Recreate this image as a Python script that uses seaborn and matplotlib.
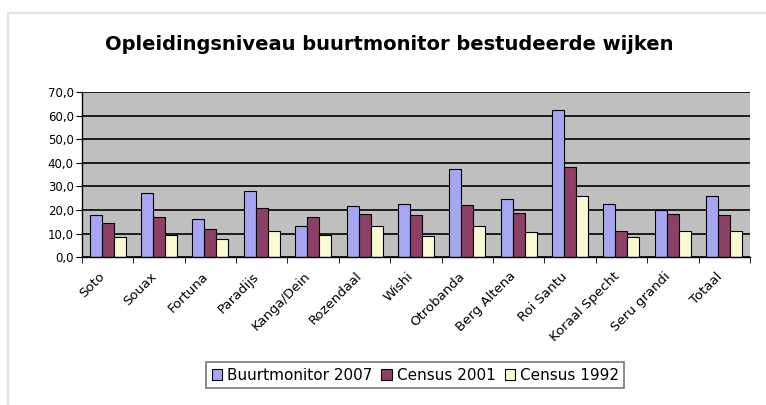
import numpy as np
import pandas as pd
import seaborn as sns
from matplotlib import pyplot as plt
from matplotlib.patches import Rectangle
from matplotlib.ticker import FuncFormatter
from matplotlib.transforms import ScaledTranslation

wijken = ['Soto', 'Souax', 'Fortuna', 'Paradijs', 'Kanga/Dein', 'Rozendaal', 'Wishi',
          'Otrobanda', 'Berg Altena', 'Roi Santu', 'Koraal Specht', 'Seru grandi', 'Totaal']
buurtmonitor_2007 = [17.8, 27.0, 16.0, 28.1, 13.2, 21.8, 22.5, 37.5, 24.7, 62.3, 22.5, 19.9, 25.9]
census_2001 = [14.3, 17.0, 11.8, 20.9, 17.0, 18.1, 17.8, 22.3, 18.8, 38.3, 11.0, 18.1, 17.8]
census_1992 = [8.6, 9.2, 7.6, 11.0, 9.6, 13.4, 8.9, 13.4, 10.7, 26.0, 8.6, 11.0, 11.0]
series = ['Buurtmonitor 2007', 'Census 2001', 'Census 1992']
colors = ['#9999FF', '#993366', '#FFFFCC']

df = pd.DataFrame({'wijk': wijken * 3,
                   'waarde': buurtmonitor_2007 + census_2001 + census_1992,
                   'reeks': np.repeat(series, len(wijken))})

sns.set_style('white')
plt.rcParams['font.family'] = ['DejaVu Sans']
plt.rcParams.update({'text.color': 'black', 'xtick.color': 'black', 'ytick.color': 'black'})

fig = plt.figure(figsize=(7.66, 4.05), dpi=100)
# faint outer frame of the chart object
fig.patches.append(Rectangle((0.011, -0.05), 1.1, 1.018, transform=fig.transFigure,
                             fill=False, edgecolor='#E4E4E4', lw=1.5))
ax = fig.add_axes([0.107, 0.365, 0.872, 0.408])
ax.set_facecolor('#C0C0C0')

sns.barplot(df, x='wijk', y='waarde', hue='reeks', palette=colors, width=0.7, gap=0,
            edgecolor='black', linewidth=0.8, ax=ax, legend=True)

ax.set_ylim(0, 70)
ax.set_xlim(-0.5, len(wijken) - 0.5)
ax.set_yticks(np.arange(0, 71, 10))
ax.yaxis.set_major_formatter(FuncFormatter(lambda v, p: f'{v:.1f}'.replace('.', ',')))
ax.yaxis.grid(True, color='black', lw=1.2)
ax.set_axisbelow(True)
ax.set_xlabel('')
ax.set_ylabel('')

ax.set_xticks(np.arange(len(wijken)))
ax.set_xticklabels(wijken, rotation=45, ha='right', rotation_mode='anchor', fontsize=9.5)
ax.set_xticks(np.arange(len(wijken) + 1) - 0.5, minor=True)
ax.tick_params(axis='x', which='major', length=0, pad=9)
ax.tick_params(axis='x', which='minor', length=4, color='black', direction='out', bottom=True)
ax.tick_params(axis='y', length=4, color='black', direction='out', left=True, labelsize=8.5, pad=2)
shift = ScaledTranslation(-9 / 100, 0, fig.dpi_scale_trans)
for lab in ax.get_xticklabels():
    lab.set_transform(lab.get_transform() + shift)

for s in ['top', 'right']:
    ax.spines[s].set_visible(False)
for s in ['left', 'bottom']:
    ax.spines[s].set_color('black')
    ax.spines[s].set_linewidth(1)

ax.get_legend().remove()
leg = fig.legend(*ax.get_legend_handles_labels(), loc='center', bbox_to_anchor=(0.542, 0.074),
                 ncol=3, frameon=True, fancybox=False, edgecolor='#555555', fontsize=11,
                 handlelength=0.7, handleheight=0.7, handletextpad=0.3, columnspacing=0.6,
                 borderpad=0.35)
leg.get_frame().set_linewidth(1.2)

fig.text(0.508, 0.889, 'Opleidingsniveau buurtmonitor bestudeerde wijken',
         ha='center', va='center', fontsize=14, fontweight='bold')

fig.savefig('out.png', dpi=100)
